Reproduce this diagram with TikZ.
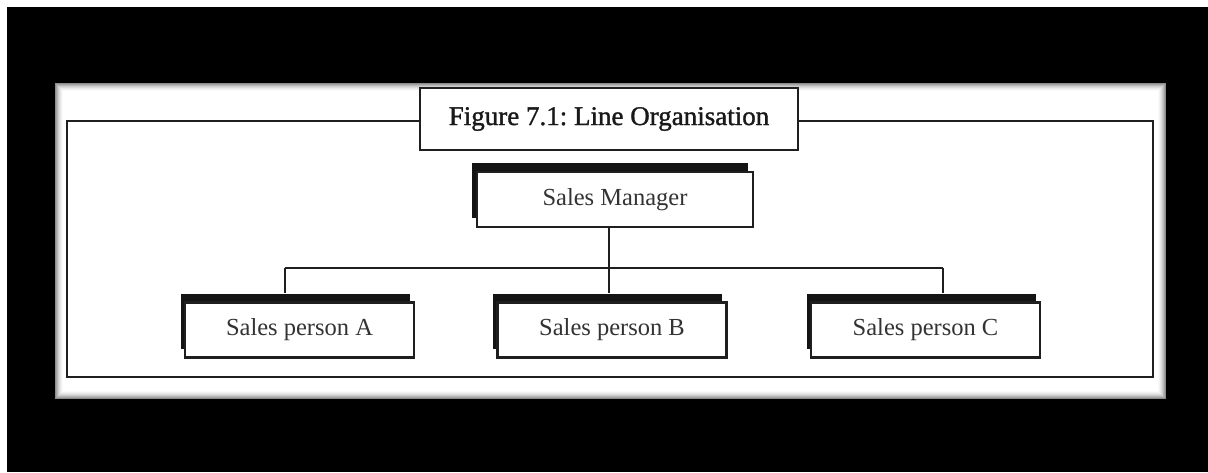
\documentclass[tikz,border=0pt]{standalone}
\usepackage{fontspec}
\setmainfont{Liberation Serif}
\newfontfamily\titlefont[FakeBold=1.2]{Liberation Serif}
\begin{document}
\begin{tikzpicture}[x=1pt,y=-1pt,
  conn/.style={draw=black!88, line width=2.4pt},
  frontbox/.style={draw=black!88, line width=2.2pt, fill=white, inner sep=0pt,
    minimum width=#1, minimum height=55pt, text=black!80,
    font=\fontsize{24.5}{28}\selectfont},
  shadowbox/.style={fill=black!92, inner sep=0pt, minimum width=#1, minimum height=55pt},
  titlebox/.style={draw=black!88, line width=2.4pt, fill=white, inner sep=0pt,
    minimum width=378pt, minimum height=62pt, text=black!90,
    font=\titlefont\fontsize{27}{32}\selectfont}]
\useasboundingbox (0,0) rectangle (1208,472);
% background
\fill[black] (0,0) rectangle (1208,472);
\fill[white] (0,0) rectangle (1208,7);
\fill[white] (0,0) rectangle (7,472);
% panel with bevel
\fill[white] (55,83) rectangle (1166,399);
\foreach \i/\c in {0/45,1/36,2/28,3/20,4/14,5/9,6/5,7/2}
  \draw[black!\c, line width=1pt] (55.5+\i,83.5+\i) rectangle (1165.5-\i,398.5-\i);
% frame
\draw[conn] (67,121) rectangle (1153,377);
% title
\node[titlebox] (title) at (609,119) {Figure 7.1:\ Line\ Organisation};
% manager
\node[shadowbox=276pt] (smsh) at (610,190) {};
\node[frontbox=276pt] (sm) at (615,199.5) {Sales\ Manager};
% persons
\node[shadowbox=229pt] (shA) at (295,321) {};
\node[frontbox=229pt] (pA) at (299.5,330) {Sales person A};
\node[shadowbox=229pt] (shB) at (607.5,321) {};
\node[frontbox=229pt] (pB) at (612,330) {Sales person B};
\node[shadowbox=229pt] (shC) at (921,321) {};
\node[frontbox=229pt] (pC) at (925.5,330) {Sales person C};
% connectors
\coordinate (hub) at (609,268);
\coordinate (hA) at (285,268);
\coordinate (hC) at (943,268);
\draw[conn] (sm.south -| hub) -- (hub);
\draw[conn] (hA) -- (hC);
\draw[conn] (hA) -- (hA |- shA.north);
\draw[conn] (hub) -- (hub |- shB.north);
\draw[conn] (hC) -- (hC |- shC.north);
\end{tikzpicture}
\end{document}
